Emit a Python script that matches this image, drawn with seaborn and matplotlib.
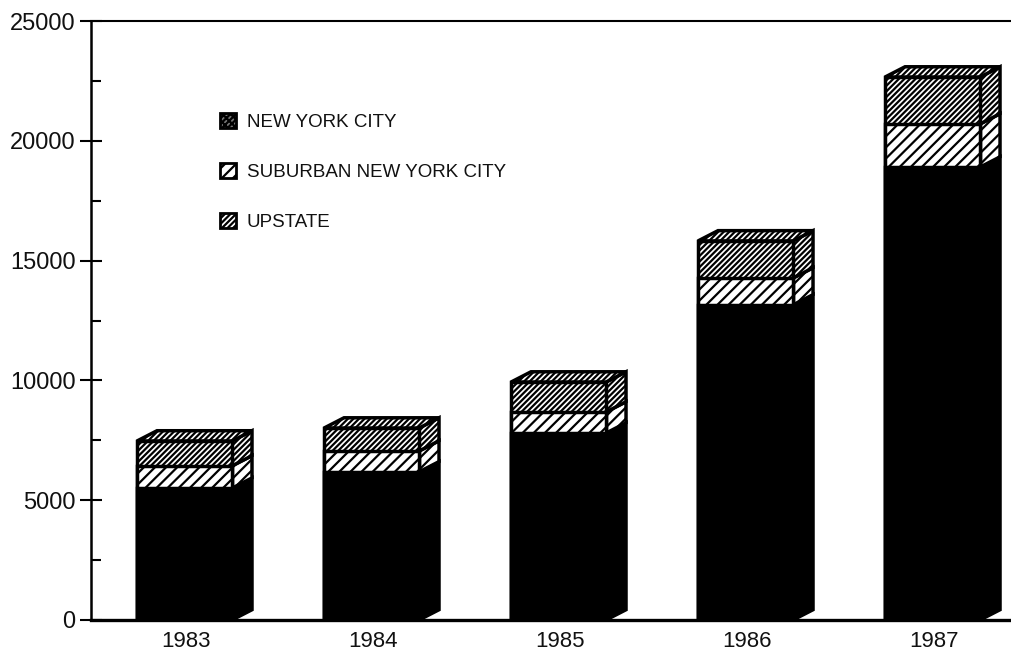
import matplotlib
matplotlib.use("Agg")
import matplotlib.pyplot as plt
import matplotlib.hatch as mhatch
from matplotlib.patches import Polygon, Patch
from matplotlib.ticker import MultipleLocator
from matplotlib.transforms import ScaledTranslation
import seaborn as sns
import numpy as np

years = ["1983", "1984", "1985", "1986", "1987"]
nyc = [5500, 6180, 7800, 13150, 18900]
suburban = [930, 870, 880, 1120, 1800]
upstate = [1040, 960, 1250, 1550, 1960]
labels = ["NEW YORK CITY", "SUBURBAN NEW YORK CITY", "UPSTATE"]


class SlashHatch(mhatch.NorthEastHatch):
    """Same diagonal hatch, finer step for each slash."""
    def __init__(self, hatch, density):
        super().__init__(hatch, density)
        n = (hatch.count('/') + hatch.count('x')) * 9
        self.num_lines = n
        self.num_vertices = (n + 1) * 2 if n else 0


mhatch._hatch_types[mhatch._hatch_types.index(mhatch.NorthEastHatch)] = SlashHatch

sns.set_theme(style="white")
plt.rcParams["font.family"] = ["Liberation Sans", "DejaVu Sans"]
plt.rcParams["hatch.linewidth"] = 1.6
plt.rcParams["hatch.color"] = "black"

W, H = 1012, 652
fig = plt.figure(figsize=(W / 100, H / 100), dpi=100, facecolor="white")
ax = fig.add_axes([91 / W, 1 - 620 / H, (W - 91) / W, (620 - 21) / H])

s1 = np.array(nyc, float)
s2 = s1 + np.array(suburban)
s3 = s2 + np.array(upstate)

BW = 0.508
HW_SUB = "//"
HW_UP = "////"
LW = 2.5
common = dict(x=years, width=BW, saturation=1, edgecolor="black", linewidth=LW, ax=ax, zorder=3)
sns.barplot(y=s3, color="white", hatch=HW_UP, **common)
sns.barplot(y=s2, color="white", hatch=HW_SUB, **common)
sns.barplot(y=s1, color="black", **common)

DX, DY = 0.107, 430


def side(x, lo, hi, **kw):
    ax.add_patch(Polygon([(x, lo), (x + DX, lo + DY), (x + DX, hi + DY), (x, hi)],
                         closed=True, edgecolor="black", linewidth=LW, zorder=2.5, **kw))


for i in range(len(years)):
    r = i + BW / 2
    l = i - BW / 2
    side(r, 0, s1[i], facecolor="black")
    side(r, s1[i], s2[i], facecolor="white", hatch=HW_SUB)
    side(r, s2[i], s3[i], facecolor="white", hatch=HW_UP)
    ax.add_patch(Polygon([(l, s3[i]), (l + DX, s3[i] + DY), (r + DX, s3[i] + DY), (r, s3[i])],
                         closed=True, facecolor="white", edgecolor="black", linewidth=LW,
                         hatch=HW_UP, zorder=2.5))

ax.set_xlim(-0.5, 4.425)
ax.set_ylim(0, 25000)
ax.set_xlabel("")
ax.set_ylabel("")
ax.yaxis.set_major_locator(MultipleLocator(5000))
ax.yaxis.set_minor_locator(MultipleLocator(2500))
ax.tick_params(axis="y", which="major", direction="inout", length=16, width=1.5, left=True,
               labelsize=17, pad=3, labelcolor="#111111", color="black")
ax.tick_params(axis="y", which="minor", direction="in", length=7, width=1.5, left=True, color="black")
ax.tick_params(axis="x", length=0, labelsize=16, pad=8, labelcolor="#111111")
for t in ax.get_xticklabels():
    t.set_transform(t.get_transform() + ScaledTranslation(1.5 / 100, 0, fig.dpi_scale_trans))
ax.patch.set_alpha(0)

for s, w in zip(["left", "top", "bottom"], [1.8, 1.5, 2.4]):
    ax.spines[s].set_visible(True)
    ax.spines[s].set_color("black")
    ax.spines[s].set_linewidth(w)
    ax.spines[s].set_zorder(5)
ax.spines["right"].set_visible(False)

handles = [
    Patch(facecolor="#777777", edgecolor="black", hatch="xxxx", linewidth=2),
    Patch(facecolor="white", edgecolor="black", hatch="//", linewidth=2),
    Patch(facecolor="white", edgecolor="black", hatch="////", linewidth=2),
]
ax.legend(handles, labels, loc="upper left", frameon=False,
          bbox_to_anchor=((214 - 91) / (W - 91), (620 - 107) / 599),
          fontsize=13.5, labelcolor="#111111", handlelength=0.85, handleheight=0.85,
          handletextpad=0.6, labelspacing=1.72, borderaxespad=0, borderpad=0.3)

fig.savefig("out.png", dpi=100, facecolor="white")
